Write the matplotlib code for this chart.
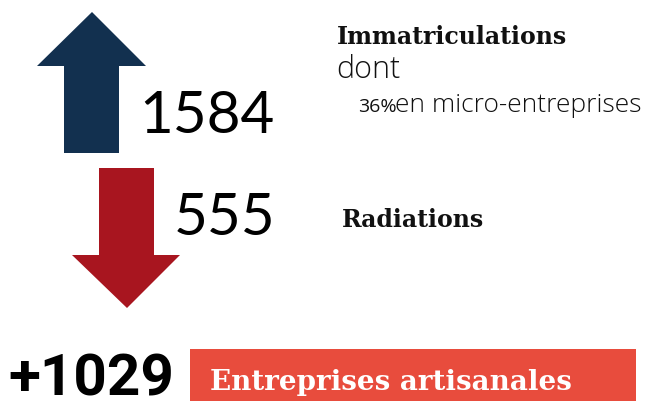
import matplotlib.pyplot as plt
from matplotlib.patches import Polygon, Rectangle

# data
immatriculations = 1584
radiations = 555
solde = immatriculations - radiations
part_micro = 36
titre_immat = 'Immatriculations'
titre_rad = 'Radiations'
titre_bandeau = 'Entreprises artisanales'

bleu = '#12304f'
rouge = '#a8151f'
rouge_clair = '#e84c3d'

fig = plt.figure(figsize=(6.49, 4.01), dpi=100)
ax = fig.add_axes([0, 0, 1, 1])
ax.set_xlim(0, 649)
ax.set_ylim(401, 0)
ax.axis('off')

# fleche montante
ax.add_patch(Polygon([(92, 12), (146, 66), (119, 66), (119, 153), (64, 153),
                      (64, 66), (37, 66)], closed=True, color=bleu, lw=0))
# fleche descendante
ax.add_patch(Polygon([(99, 168), (154, 168), (154, 255), (180, 255), (127, 308),
                      (72, 255), (99, 255)], closed=True, color=rouge, lw=0))

ax.text(139, 133, str(immatriculations), fontsize=42, family='Lato',
        va='baseline', ha='left', color='black')
ax.text(174, 235, str(radiations), fontsize=42, family='Lato',
        va='baseline', ha='left', color='black')

slab = 'DejaVu Serif'
ax.text(337, 44, titre_immat, fontsize=17, family=slab, weight='bold',
        va='baseline', color='#111111')
ax.text(336, 78, 'dont', fontsize=22, family='Open Sans', weight='light',
        va='baseline', color='#111111')
ax.text(358, 112, f'{part_micro}%', fontsize=14, family='Open Sans',
        va='baseline', color='#111111')
ax.text(395, 112, 'en micro-entreprises', fontsize=19, family='Open Sans',
        weight='light', va='baseline', color='#111111')
ax.text(342, 227, titre_rad, fontsize=17, family=slab, weight='bold',
        va='baseline', color='#111111')

# bandeau
ax.add_patch(Rectangle((190, 349), 446, 60, color=rouge_clair, lw=0))
ax.text(210, 390, titre_bandeau, fontsize=20, family=slab, weight='bold',
        color='white', va='baseline', ha='left')
ax.text(8, 396, f'+{solde}', fontsize=42, family='Roboto', weight='bold',
        va='baseline', ha='left', color='black')

fig.savefig('out.png', dpi=100)
